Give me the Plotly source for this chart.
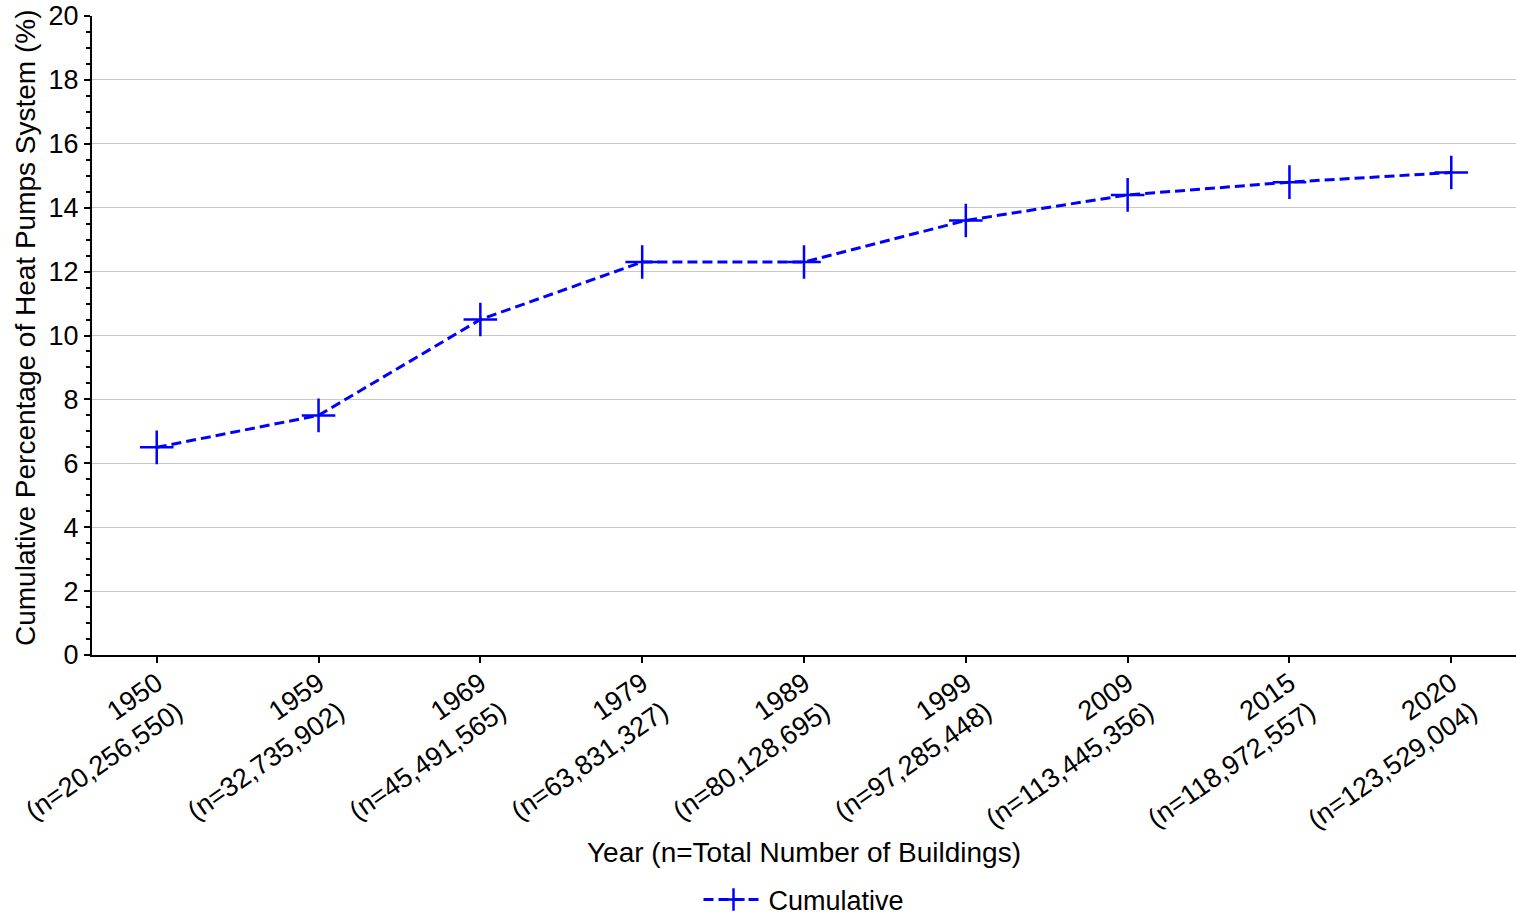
import plotly.graph_objects as go

# Construction periods and building totals
years = ["1950", "1959", "1969", "1979", "1989", "1999", "2009", "2015", "2020"]
building_counts = ["20,256,550", "32,735,902", "45,491,565", "63,831,327", "80,128,695",
                   "97,285,448", "113,445,356", "118,972,557", "123,529,004"]
# Cumulative share of buildings with heat pump systems (%)
cumulative_pct = [6.5, 7.5, 10.5, 12.3, 12.3, 13.6, 14.4, 14.8, 15.1]

tick_labels = [f"{y}<br>(n={n})" for y, n in zip(years, building_counts)]

FONT = "Liberation Sans, Arial, sans-serif"
FS = 27
TITLE_FS = 28

fig = go.Figure()
fig.add_trace(go.Scatter(
    x=list(range(len(years))),
    y=cumulative_pct,
    mode="lines+markers",
    name="Cumulative",
    line=dict(color="#0000ff", width=3, dash="10px,5px"),
    marker=dict(symbol="cross-thin", size=24, line=dict(color="#0000ff", width=2.5)),
))

fig.update_layout(
    width=1516, height=916,
    margin=dict(l=92, r=0, t=16, b=261, autoexpand=False),
    plot_bgcolor="white", paper_bgcolor="white",
    font=dict(family=FONT, size=FS, color="black"),
    showlegend=True,
    legend=dict(orientation="h", x=0.5, xanchor="center", y=-(900 - 655) / 639,
                yanchor="middle", itemwidth=60, font=dict(size=FS)),
    xaxis=dict(
        tickmode="array", tickvals=list(range(len(years))), ticktext=tick_labels,
        tickangle=-35, range=[-0.4, 8.4], automargin=False,
        showline=True, linecolor="black", linewidth=2,
        ticks="outside", ticklen=6, tickwidth=2, tickcolor="black",
        ticklabelstandoff=-6,
        showgrid=False, zeroline=False,
        tickfont=dict(size=FS),
    ),
    yaxis=dict(
        range=[0, 20], dtick=2, tick0=0, automargin=False,
        showline=True, linecolor="black", linewidth=2,
        ticks="outside", ticklen=6, tickwidth=2, tickcolor="black",
        showgrid=True, gridcolor="#c8c8c8", gridwidth=1,
        zeroline=False,
        minor=dict(dtick=0.5, ticks="outside", ticklen=4, tickwidth=1.5,
                   tickcolor="black", showgrid=False),
        tickfont=dict(size=FS),
    ),
    annotations=[
        dict(text="Year (n=Total Number of Buildings)", xref="paper", yref="paper",
             x=0.5, y=-(852 - 655) / 639, xanchor="center", yanchor="middle",
             showarrow=False, font=dict(size=TITLE_FS)),
        dict(text="Cumulative Percentage of Heat Pumps System (%)", xref="paper", yref="paper",
             x=(25 - 92) / 1424, y=(655 - 328) / 639, xanchor="center", yanchor="middle",
             textangle=-90, showarrow=False, font=dict(size=TITLE_FS)),
    ],
)

fig.write_html("out.html")
